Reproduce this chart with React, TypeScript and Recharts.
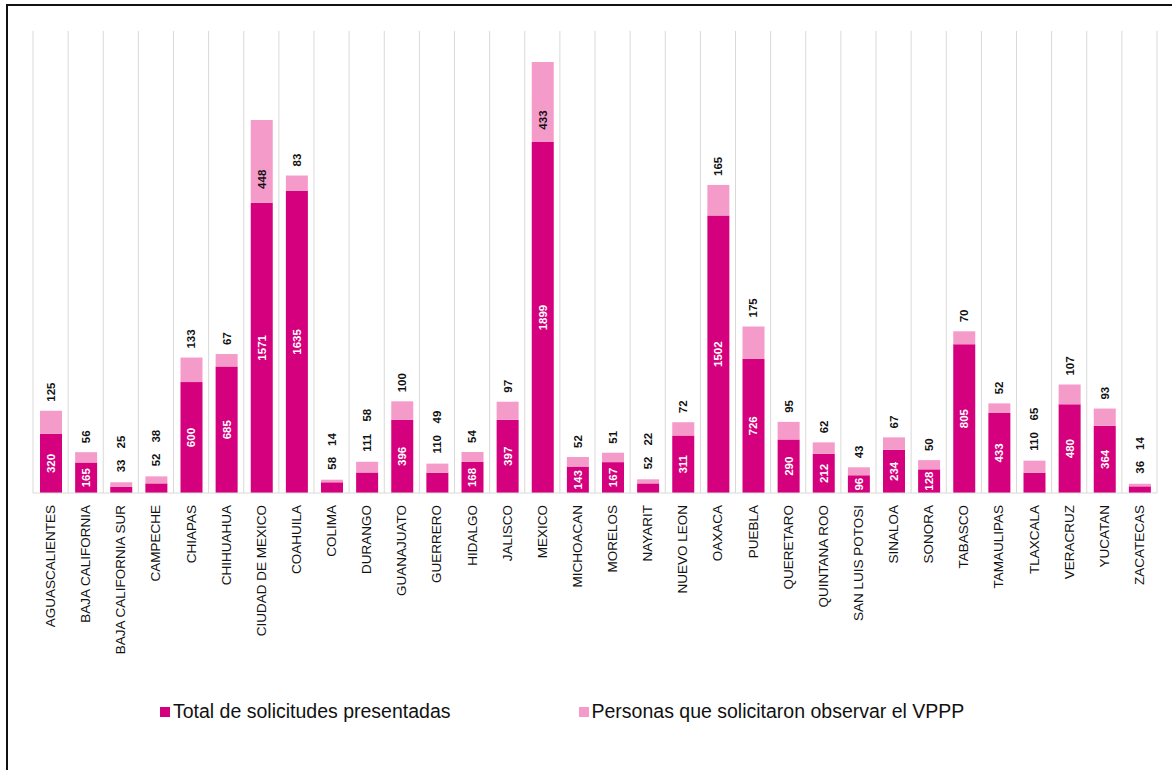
import { Bar, BarChart, CartesianGrid, LabelList, Legend, XAxis, YAxis } from "recharts";

const states = [
  "AGUASCALIENTES", "BAJA CALIFORNIA", "BAJA CALIFORNIA SUR", "CAMPECHE", "CHIAPAS",
  "CHIHUAHUA", "CIUDAD DE MEXICO", "COAHUILA", "COLIMA", "DURANGO", "GUANAJUATO",
  "GUERRERO", "HIDALGO", "JALISCO", "MEXICO", "MICHOACAN", "MORELOS", "NAYARIT",
  "NUEVO LEON", "OAXACA", "PUEBLA", "QUERETARO", "QUINTANA ROO", "SAN LUIS POTOSI",
  "SINALOA", "SONORA", "TABASCO", "TAMAULIPAS", "TLAXCALA", "VERACRUZ", "YUCATAN",
  "ZACATECAS",
];

const solicitudes = [
  320, 165, 33, 52, 600, 685, 1571, 1635, 58, 111, 396, 110, 168, 397, 1899, 143,
  167, 52, 311, 1502, 726, 290, 212, 96, 234, 128, 805, 433, 110, 480, 364, 36,
];

const personas = [
  125, 56, 25, 38, 133, 67, 448, 83, 14, 58, 100, 49, 54, 97, 433, 52, 51, 22, 72,
  165, 175, 95, 62, 43, 67, 50, 70, 52, 65, 107, 93, 14,
];

const DARK = "#D4007D";
const LIGHT = "#F59BCA";
const FONT = "'Liberation Sans', Arial, sans-serif";

const data = states.map((name, i) => ({
  name,
  total: solicitudes[i],
  personas: personas[i],
}));

// rough width of a bold 11.5px number
const textW = (v: number) => String(v).length * 6.4;
const fitsInside = (v: number, h: number) => h >= textW(v) + 3;

const vText = (x: number, y: number, v: number, fill: string, anchor: string, key?: string) => (
  <text
    key={key}
    x={x}
    y={y}
    transform={`rotate(-90 ${x} ${y})`}
    textAnchor={anchor}
    dominantBaseline="central"
    fontFamily={FONT}
    fontSize={11.5}
    fontWeight="bold"
    fill={fill}
  >
    {v}
  </text>
);

const TotalLabel = (props: any) => {
  const { x, y, width, height, value } = props;
  const cx = x + width / 2;
  if (fitsInside(value, height)) return vText(cx, y + height / 2, value, "#fff", "middle");
  return null;
};

const PersonasLabel = (props: any) => {
  const { x, y, width, height, value, index } = props;
  const cx = x + width / 2;
  if (height > 60) return vText(cx, y + height / 2 + 18, value, "#111", "middle");
  const perUnit = height / value;
  const t = solicitudes[index];
  const darkH = t * perUnit;
  if (fitsInside(t, darkH)) return vText(cx, y - 9, value, "#111", "start");
  return (
    <g>
      {vText(cx, y - 10, t, "#111", "start", "a")}
      {vText(cx, y - 10 - textW(t) - 11, value, "#111", "start", "b")}
    </g>
  );
};

const StateTick = (props: any) => {
  const { x, y, payload } = props;
  return (
    <text
      x={x}
      y={y}
      transform={`rotate(-90 ${x} ${y})`}
      textAnchor="end"
      dominantBaseline="central"
      fontFamily={FONT}
      fontSize={13.5}
      fill="#111"
    >
      {payload.value}
    </text>
  );
};

const LegendContent = () => (
  <div style={{ display: "flex", alignItems: "center", paddingLeft: 160, fontFamily: FONT, fontSize: 19.5, color: "#111" }}>
    <span style={{ width: 10, height: 10, background: DARK, display: "inline-block", marginRight: 3 }} />
    <span>Total de solicitudes presentadas</span>
    <span style={{ width: 10, height: 10, background: LIGHT, display: "inline-block", marginLeft: 128, marginRight: 3 }} />
    <span>Personas que solicitaron observar el VPPP</span>
  </div>
);

export default function App() {
  return (
    <div style={{ position: "absolute", left: 0, top: 0, width: 1172, height: 770, background: "#fff", overflow: "hidden" }}>
      <div
        style={{
          position: "absolute",
          left: 6,
          top: 4,
          width: 1200,
          height: 800,
          borderTop: "2px solid #111",
          borderLeft: "2px solid #111",
        }}
      />
      <BarChart
        width={1172}
        height={770}
        data={data}
        margin={{ top: 31, right: 15, left: 33, bottom: 77 }}
        style={{ position: "absolute", left: 0, top: 0 }}
      >
        <CartesianGrid
          horizontal={false}
          stroke="#d9d9d9"
          verticalCoordinatesGenerator={({ offset }: any) =>
            states.map((_, i) => offset.left + (i * offset.width) / states.length).concat(offset.left + offset.width)
          }
        />
        <XAxis
          dataKey="name"
          interval={0}
          height={200}
          tickLine={false}
          tickSize={0}
          tickMargin={12}
          axisLine={{ stroke: "#d9d9d9" }}
          tick={<StateTick />}
        />
        <YAxis hide domain={[0, 2500]} />
        <Legend verticalAlign="middle" align="center" wrapperStyle={{ top: 700, left: 0, width: 1172 }} content={<LegendContent />} />
        <Bar dataKey="total" stackId="a" fill={DARK} barSize={22} isAnimationActive={false}>
          <LabelList dataKey="total" content={<TotalLabel />} />
        </Bar>
        <Bar dataKey="personas" stackId="a" fill={LIGHT} barSize={22} isAnimationActive={false}>
          <LabelList dataKey="personas" content={<PersonasLabel />} />
        </Bar>
      </BarChart>
    </div>
  );
}
